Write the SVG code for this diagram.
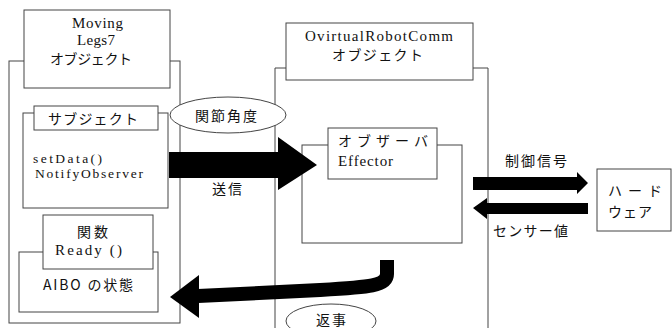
<svg xmlns="http://www.w3.org/2000/svg" width="672" height="328" viewBox="0 0 672 328">
<style>
.box{fill:#fff;stroke:#444;stroke-width:1}
.ell{fill:#fff;stroke:#444;stroke-width:1}
.t{font-family:"Liberation Serif","Noto Sans CJK JP",serif;font-size:15px;fill:#111}
.s{font-size:13.5px}
.j{font-family:"Noto Sans CJK JP","Liberation Sans",sans-serif;font-size:14px;fill:#111}
.arr{fill:#000}
</style>
<rect width="672" height="328" fill="#fff"/>
<g id="moving-legs7">
<rect class="box" x="9" y="61" width="171" height="262"/>
<rect class="box" x="24" y="10" width="146" height="78"/>
<text class="t" x="72" y="28" textLength="51" lengthAdjust="spacing">Moving</text>
<text class="t" x="77" y="45" textLength="38" lengthAdjust="spacing">Legs7</text>
<text class="j" x="50" y="64" textLength="82" lengthAdjust="spacing">オブジェクト</text>
</g>
<g id="subject">
<rect class="box" x="23" y="113" width="145" height="95"/>
<rect class="box" x="34" y="106" width="124" height="24"/>
<text class="j" x="48" y="124" textLength="90" lengthAdjust="spacing">サブジェクト</text>
<text class="t s" x="33" y="163" textLength="69" lengthAdjust="spacing">setData()</text>
<text class="t s" x="35" y="178" textLength="108" lengthAdjust="spacing">NotifyObserver</text>
</g>
<g id="aibo-state">
<rect class="box" x="19" y="252" width="139" height="60"/>
<rect class="box" x="43" y="215" width="110" height="54"/>
<text class="j" x="77" y="237" textLength="31" lengthAdjust="spacing">関数</text>
<text class="t" x="55" y="255" textLength="67" lengthAdjust="spacing">Ready ()</text>
<text class="j" x="43" y="290" textLength="90" lengthAdjust="spacing">AIBO の状態</text>
</g>
<g id="ovirtualrobotcomm">
<path class="box" d="M275,328 V68 H488 V328"/>
<rect class="box" x="286" y="23" width="187" height="57"/>
<text class="t" x="305" y="41" textLength="148" lengthAdjust="spacing">OvirtualRobotComm</text>
<text class="j" x="332" y="60" textLength="91" lengthAdjust="spacing">オブジェクト</text>
</g>
<g id="observer">
<rect class="box" x="302" y="145" width="160" height="98"/>
<rect class="box" x="328" y="128" width="109" height="51"/>
<text class="j" x="338" y="146" textLength="90" lengthAdjust="spacing">オブザーバ</text>
<text class="t" x="338" y="166" textLength="55" lengthAdjust="spacing">Effector</text>
</g>
<g id="hardware">
<rect class="box" x="597" y="169" width="74" height="62"/>
<text class="j" x="608" y="196" textLength="54" lengthAdjust="spacing">ハード</text>
<text class="j" x="608" y="217" textLength="44" lengthAdjust="spacing">ウェア</text>
</g>
<g id="connectors">
<polygon class="arr" points="169,152 278,152 278,137 317,165 278,190 278,178 169,178"/>
<path d="M387,260 V274 C387,286 370,287 320,290 L198,296" fill="none" stroke="#000" stroke-width="14"/>
<polygon class="arr" points="199,275 170,297 199,318"/>
<polygon class="arr" points="473,177 577,177 577,172 588,183 577,194 577,190 473,190"/>
<polygon class="arr" points="588,203 487,203 487,198 473,208 487,219 487,214 588,214"/>
</g>
<g id="label-joint-angle">
<ellipse class="ell" cx="228" cy="115" rx="58" ry="18"/>
<text class="j" x="195" y="121" textLength="62" lengthAdjust="spacing">関節角度</text>
</g>
<g id="label-reply">
<ellipse class="ell" cx="331" cy="321" rx="45" ry="17"/>
<text class="j" x="316" y="325" textLength="30" lengthAdjust="spacing">返事</text>
</g>
<g id="labels">
<text class="j" x="212" y="194" textLength="30" lengthAdjust="spacing">送信</text>
<text class="j" x="505" y="166" textLength="62" lengthAdjust="spacing">制御信号</text>
<text class="j" x="493" y="236" textLength="75" lengthAdjust="spacing">センサー値</text>
</g>
</svg>
